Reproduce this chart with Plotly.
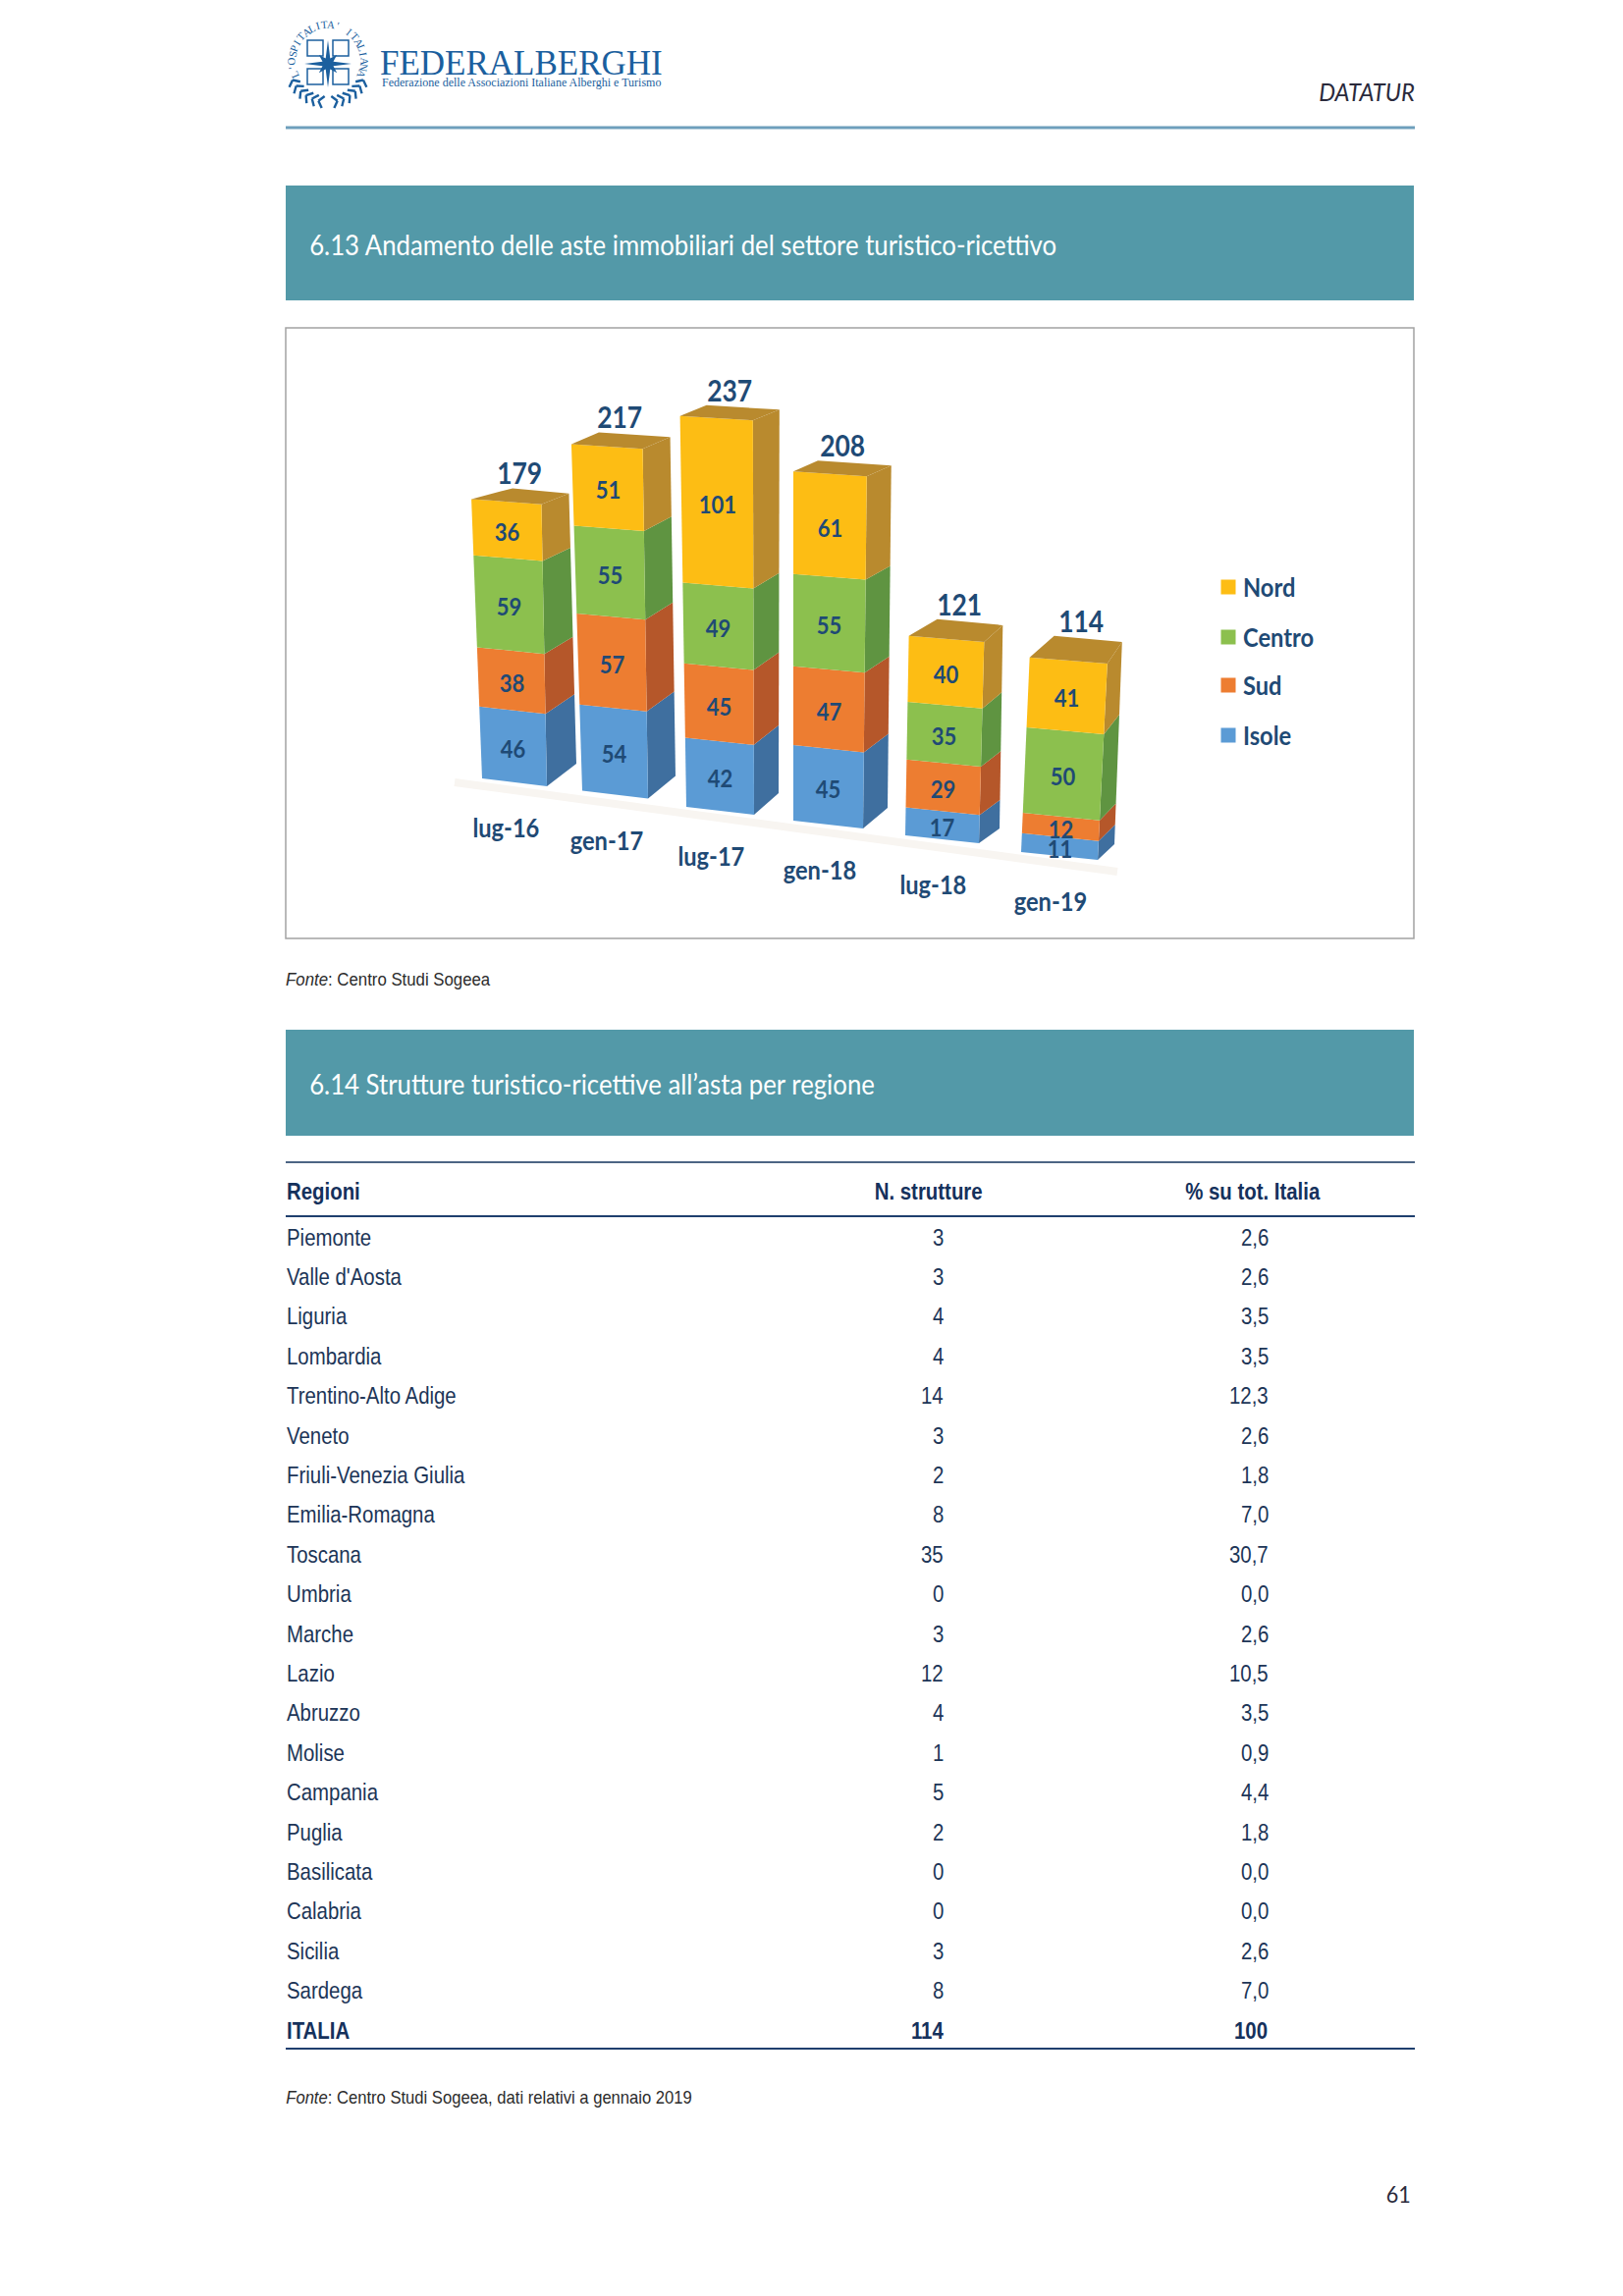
import math
import plotly.graph_objects as go

# ---------- data ----------
periods = ["lug-16", "gen-17", "lug-17", "gen-18", "lug-18", "gen-19"]
isole = [46, 54, 42, 45, 17, 11]
sud = [38, 57, 45, 47, 29, 12]
centro = [59, 55, 49, 55, 35, 50]
nord = [36, 51, 101, 61, 40, 41]
totals = [179, 217, 237, 208, 121, 114]

regioni = ["Piemonte", "Valle d'Aosta", "Liguria", "Lombardia", "Trentino-Alto Adige", "Veneto",
           "Friuli-Venezia Giulia", "Emilia-Romagna", "Toscana", "Umbria", "Marche", "Lazio",
           "Abruzzo", "Molise", "Campania", "Puglia", "Basilicata", "Calabria", "Sicilia", "Sardega"]
n_strutture = ["3", "3", "4", "4", "14", "3", "2", "8", "35", "0", "3", "12", "4", "1", "5", "2", "0", "0", "3", "8"]
quote = ["2,6", "2,6", "3,5", "3,5", "12,3", "2,6", "1,8", "7,0", "30,7", "0,0", "2,6", "10,5",
         "3,5", "0,9", "4,4", "1,8", "0,0", "0,0", "2,6", "7,0"]

# ---------- styles and geometry ----------
series = [("Isole", isole, "#5B9BD5", "#3F6F9F"), ("Sud", sud, "#ED7D31", "#B5572A"),
          ("Centro", centro, "#8CC04E", "#5F9441"), ("Nord", nord, "#FDBD14", "#B98A2E")]
NAVY = "#1F4A75"
TXT = "#1C3557"
BOX_L, BOX_R, BOX_T, BOX_B = 291, 1440, 334, 956
U = 1.65  # pixels per unit of the chart's value axis
xb = [491, 593, 699, 808, 922, 1040]
wb = [66, 67, 69, 71, 75, 78]
floor_y = [793, 805.5, 822, 836, 851, 868]
rise_b = [23, 23, 22, 21, 15, 16]
rise_t = [11, 12, 11, 11, 17, 22]
dx_b = [30, 28, 25, 25, 21, 17]
dx_t = [28, 28, 27, 25, 19, 15]
apex_dx = [14, 0, 0, 0, 10, 10]
k_scale = [1.59, 1.627, 1.68, 1.71, 1.68, 1.74]
lean_x = [-0.061, -0.051, -0.027, 0.0, 0.03, 0.076]
legend_y = [598, 649, 698, 749]


def to_val(py):
    return (BOX_B - py) / U


def corners(i, v):
    f = v / totals[i]
    lx = xb[i] + lean_x[i] * v
    ly = floor_y[i] - k_scale[i] * v
    rx = lx + wb[i] + (0.03 - 0.004 * i) * v
    ry = ly + 8 - 0.015 * v
    ox = rx + dx_b[i] + (dx_t[i] - dx_b[i]) * f
    oy = ry - (rise_b[i] + (rise_t[i] - rise_b[i]) * f)
    return (lx, ly), (rx, ry), (ox, oy)


def poly(points, color, name=None):
    xs = [p[0] for p in points] + [points[0][0]]
    ys = [to_val(p[1]) for p in points] + [to_val(points[0][1])]
    return go.Scatter(x=xs, y=ys, xaxis="x2", yaxis="y2", mode="lines", fill="toself", fillcolor=color,
                      line=dict(width=0, color=color), showlegend=False, hoverinfo="skip", name=name)


fig = go.Figure()
annots = []
shapes = []


def text(x, y, s, size, color=TXT, font="Liberation Sans", anchor="left", angle=0, xref="x", yref="y", sx=None):
    d = dict(x=x, y=y, xref=xref, yref=yref, text=s, showarrow=False, xanchor=anchor, yanchor="middle",
             textangle=angle, font=dict(size=size, color=color, family=font), borderpad=0, borderwidth=0)
    if sx:
        d["name"] = str(sx)
    annots.append(d)


def rect(x0, y0, x1, y1, fill=None, line=None, lw=0):
    shapes.append(dict(type="rect", xref="x", yref="y", x0=x0, y0=y0, x1=x1, y1=y1,
                       fillcolor=fill or "rgba(0,0,0,0)", line=dict(width=lw, color=line or "rgba(0,0,0,0)"), layer="below"))


def hline(y, color, lw):
    shapes.append(dict(type="line", xref="x", yref="y", x0=291, x1=1441, y0=y, y1=y, line=dict(color=color, width=lw)))


# page furniture
hline(130, "#6E9FBC", 3)
rect(291, 189, 1440, 306, fill="#5399A8")
rect(291, 1049, 1440, 1157, fill="#5399A8")
rect(BOX_L, BOX_T, BOX_R, BOX_B, fill="#FFFFFF", line="#A3A3A3", lw=1.5)
text(315, 249, "6.13 Andamento delle aste immobiliari del settore turistico-ricettivo", 28, "#FFFFFF", "Lato", sx=0.92)
text(315, 1104, "6.14 Strutture turistico-ricettive all’asta per regione", 28, "#FFFFFF", "Lato", sx=0.92)
text(1441, 93, "<i>DATATUR</i>", 25, "#2A2A3C", "Lato", "right", sx=0.95)
text(291, 998, "<i>Fonte</i>: Centro Studi Sogeea", 17.5, "#2B2B2B", sx=0.96)
text(291, 2137, "<i>Fonte</i>: Centro Studi Sogeea, dati relativi a gennaio 2019", 17.5, "#2B2B2B", sx=0.95)
text(1437, 2234, "61", 24, "#2A2A3C", "Lato", "right", sx=0.9)

# logo
BLUE = "#1B5F9E"
text(387, 64, "FEDERALBERGHI", 35, BLUE, "Liberation Serif")
text(389, 84, "Federazione delle Associazioni Italiane Alberghi e Turismo", 12, BLUE, "Liberation Serif")
cx, cy, R = 334, 62, 37
arc = "L'OSPITALITA' ITALIANA"
for n, ch in enumerate(arc):
    a = math.radians(-112 + n * 224 / (len(arc) - 1))
    text(cx + R * math.sin(a), cy - R * math.cos(a), ch, 11, BLUE, "Liberation Serif", "center", math.degrees(a))
star = []
for n in range(16):
    a = math.radians(n * 22.5)
    r = 24 if n % 4 == 0 else (13 if n % 2 == 0 else 6)
    star.append((cx + r * math.sin(a), cy + 3 - r * math.cos(a)))
shapes.append(dict(type="path", xref="x", yref="y", fillcolor=BLUE, line=dict(width=0),
                   path="M" + " L".join(f"{x:.1f},{y:.1f}" for x, y in star) + " Z"))
for dx0, dy0 in [(-13, -13), (13, -13), (-13, 16), (13, 16)]:
    shapes.append(dict(type="rect", xref="x", yref="y", x0=cx + dx0 - 8, x1=cx + dx0 + 8, y0=cy + dy0 - 8, y1=cy + dy0 + 8,
                       line=dict(color=BLUE, width=1.5)))
for side in (-1, 1):
    for n in range(6):
        a = math.radians(116 + n * 10)
        lx, ly = cx + side * 40 * math.sin(a), cy + 2 - 40 * math.cos(a)
        for off in (-1, 1):
            b = a + off * 0.9
            shapes.append(dict(type="line", xref="x", yref="y", x0=lx, y0=ly,
                               x1=lx + side * 8 * math.cos(b), y1=ly + 8 * math.sin(b), line=dict(color=BLUE, width=2.4)))

# floor shadow
fig.add_trace(go.Scatter(x=[463, 1138], y=[to_val(797), to_val(888)], xaxis="x2", yaxis="y2", mode="lines",
                         line=dict(color="#F8F5F1", width=8), showlegend=False, hoverinfo="skip"))

# 3-D stacked bars, computed from the series values
for i in range(len(periods)):
    cum = 0
    for name, vals, front, side in series:
        v0, v1 = cum, cum + vals[i]
        l0, r0, o0 = corners(i, v0)
        l1, r1, o1 = corners(i, v1)
        fig.add_trace(poly([r0, o0, o1, r1], side))
        fig.add_trace(poly([l0, r0, r1, l1], front, name=name))
        mx = (l0[0] + r0[0] + l1[0] + r1[0]) / 4
        my = (l0[1] + r0[1] + l1[1] + r1[1]) / 4 + 1.5
        text(mx, to_val(my), f"<b>{vals[i]}</b>", 25, NAVY, "Lato", "center", xref="x2", yref="y2", sx=0.88)
        cum = v1
    l, r, o = corners(i, cum)
    apex = (l[0] + o[0] - r[0] + apex_dx[i], l[1] + o[1] - r[1])
    fig.add_trace(poly([l, r, o, apex], "#B98A2E"))
    text((l[0] + r[0]) / 2 + 13, to_val(apex[1] - 16), f"<b>{totals[i]}</b>", 30, NAVY, "Lato", "center",
         xref="x2", yref="y2", sx=0.88)
    text(xb[i] + wb[i] / 2 - 9, to_val(floor_y[i] + 50), f"<b>{periods[i]}</b>", 26, NAVY, "Lato", "center",
         xref="x2", yref="y2", sx=0.91)

# legend (top to bottom: Nord, Centro, Sud, Isole)
for (name, vals, front, side), ly in zip(reversed(series), legend_y):
    fig.add_trace(go.Scatter(x=[1251], y=[to_val(ly)], xaxis="x2", yaxis="y2", mode="markers", name=name,
                             marker=dict(symbol="square", size=15, color=front), showlegend=False, hoverinfo="skip"))
    text(1266, to_val(ly), f"<b>{name}</b>", 26, NAVY, "Lato", "left", xref="x2", yref="y2", sx=0.91)

# table
hline(1184, "#4C6584", 2)
hline(1239, "#1F3F6E", 2)
hline(2087, "#1F3F6E", 2)
S = 0.85
text(292, 1213, "<b>Regioni</b>", 24, "#15315C", anchor="left", sx=S)
text(945, 1213, "<b>N. strutture</b>", 24, "#15315C", anchor="center", sx=S)
text(1276, 1213, "<b>% su tot. Italia</b>", 24, "#15315C", anchor="center", sx=S)
ROW0, STEP = 1260, 40.4
for r, (a, b, c) in enumerate(zip(regioni, n_strutture, quote)):
    y = ROW0 + r * STEP
    text(292, y, a, 24, TXT, sx=S)
    text(961, y, b, 24, TXT, anchor="right", sx=S)
    text(1292, y, c, 24, TXT, anchor="right", sx=S)
y = ROW0 + 20 * STEP
text(292, y, "<b>ITALIA</b>", 24, "#15315C", sx=S)
text(961, y, "<b>114</b>", 24, "#15315C", anchor="right", sx=S)
text(1291, y, "<b>100</b>", 24, "#15315C", anchor="right", sx=S)

W, H = 1653, 2339
hidden = dict(visible=False, showgrid=False, zeroline=False, fixedrange=True)
fig.update_layout(
    width=W, height=H, margin=dict(l=0, r=0, t=0, b=0, autoexpand=False), autosize=False,
    paper_bgcolor="#FFFFFF", plot_bgcolor="rgba(0,0,0,0)", hovermode=False, showlegend=False,
    xaxis=dict(hidden, domain=[0, 1], range=[0, W]),
    yaxis=dict(hidden, domain=[0, 1], range=[H, 0]),
    xaxis2=dict(hidden, domain=[BOX_L / W, BOX_R / W], range=[BOX_L, BOX_R], anchor="y2"),
    yaxis2=dict(hidden, domain=[1 - BOX_B / H, 1 - BOX_T / H], range=[0, (BOX_B - BOX_T) / U], anchor="x2"),
    annotations=annots, shapes=shapes,
)
fig.add_trace(go.Scatter(x=[0], y=[0], mode="markers", marker=dict(opacity=0), showlegend=False, hoverinfo="skip"))

post = """
document.body.style.margin = '0';
var gd = document.querySelector('.js-plotly-plot');
function squeeze() {
  gd.querySelectorAll('.annotation').forEach(function (g) {
    var a = gd.layout.annotations[+g.getAttribute('data-index')];
    if (!a || !a.name) return;
    var t = g.querySelector('text');
    t.style.transformBox = 'fill-box';
    t.style.transformOrigin = {left: '0% 50%', center: '50% 50%', right: '100% 50%'}[a.xanchor];
    t.style.transform = 'scaleX(' + a.name + ')';
  });
}
squeeze();
setTimeout(squeeze, 0);
"""
fig.write_html("out.html", config=dict(displayModeBar=False), post_script=post)
